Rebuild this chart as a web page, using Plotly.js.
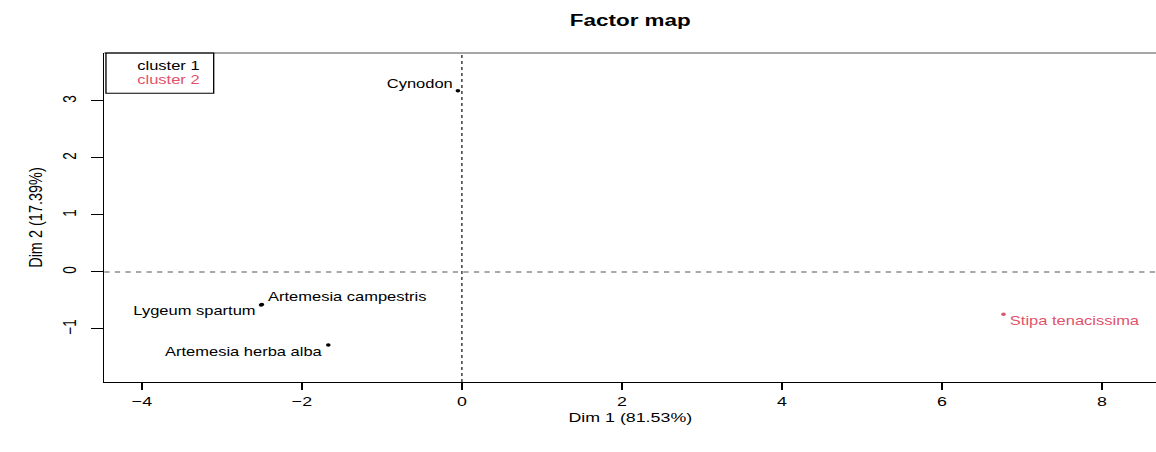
<!DOCTYPE html>
<html>
<head>
<meta charset="utf-8">
<script src="https://cdn.plot.ly/plotly-3.0.1.min.js"></script>
<style>
  html, body { margin: 0; padding: 0; background: #fff; overflow: hidden; }
  #wrap { width: 1156px; height: 452px; overflow: hidden; }
  #chart { width: 876px; height: 452px; transform: scaleX(1.32); transform-origin: 0 0; }
</style>
</head>
<body>
<div id="wrap"><div id="chart"></div></div>
<script>
// ---- data ----
const species = ["Cynodon", "Lygeum spartum", "Artemesia campestris", "Artemesia herba alba", "Stipa tenacissima"];
const dim1 = [-0.05, -2.51, -2.50, -1.67, 6.77];
const dim2 = [3.18, -0.58, -0.57, -1.28, -0.74];
const cluster = [1, 1, 1, 1, 2];
const clusterNames = ["cluster 1", "cluster 2"];
const xTicks = [-4, -2, 0, 2, 4, 6, 8];
const yTicks = [-1, 0, 1, 2, 3];

// ---- style ----
const clusterColors = {1: "#000000", 2: "#DF536B"};
const labelPlace = {
  "Cynodon":              {xanchor: "right", xshift: -2, yshift: 7},
  "Lygeum spartum":       {xanchor: "right", xshift: -2, yshift: -6},
  "Artemesia campestris": {xanchor: "left",  xshift: 3,  yshift: 7},
  "Artemesia herba alba": {xanchor: "right", xshift: -3, yshift: -7},
  "Stipa tenacissima":    {xanchor: "left",  xshift: 3,  yshift: -7}
};
const FONT = "Liberation Sans, Arial, sans-serif";

const traces = [1, 2].map(c => {
  const idx = cluster.map((k, i) => k === c ? i : -1).filter(i => i >= 0);
  return {
    type: "scatter", mode: "markers",
    x: idx.map(i => dim1[i]), y: idx.map(i => dim2[i]),
    marker: {color: clusterColors[c], size: 3.5},
    name: clusterNames[c - 1], showlegend: false, hoverinfo: "x+y"
  };
});

const annotations = species.map((s, i) => Object.assign({
  x: dim1[i], y: dim2[i], xref: "x", yref: "y",
  text: s, showarrow: false, yanchor: "middle",
  font: {family: FONT, size: 12.5, color: clusterColors[cluster[i]]}
}, labelPlace[s]));

// legend texts
const legendY = [0.960, 0.917];
clusterNames.forEach((n, k) => {
  annotations.push({
    x: 0.029, y: legendY[k], xref: "paper", yref: "paper",
    xanchor: "left", yanchor: "middle", showarrow: false, text: n,
    font: {family: FONT, size: 12.5, color: clusterColors[k + 1]}
  });
});

const shapes = [
  {type: "line", xref: "x", yref: "paper", x0: 0, x1: 0, y0: 0, y1: 1,
   line: {color: "#222", width: 1, dash: "3px,3px"}},
  {type: "line", xref: "paper", yref: "y", x0: 0, x1: 1, y0: 0, y1: 0,
   line: {color: "#555", width: 1, dash: "4px,4px"}},
  {type: "line", xref: "paper", yref: "paper", x0: 0, x1: 1, y0: 1, y1: 1,
   line: {color: "#888", width: 1.5}},
  {type: "rect", xref: "paper", yref: "paper", x0: 0.0016, x1: 0.104, y0: 0.878, y1: 1,
   line: {color: "#000", width: 1}, fillcolor: "rgba(0,0,0,0)"}
];

const layout = {
  width: 876, height: 452,
  margin: {l: 79, r: 0, t: 53, b: 70},
  paper_bgcolor: "#fff", plot_bgcolor: "#fff",
  font: {family: FONT, color: "#000"},
  title: {text: "<b>Factor map</b>", font: {family: FONT, size: 17, color: "#000"},
          x: 0.5, xref: "paper", y: 1 - 20 / 452, yref: "container", yanchor: "middle"},
  xaxis: {
    range: [-4.47, 8.68], tickvals: xTicks, ticktext: xTicks.map(v => v < 0 ? "\u2212" + Math.abs(v) : String(v)),
    showgrid: false, zeroline: false, showline: true, linecolor: "#000", linewidth: 1,
    ticks: "outside", ticklen: 7, tickcolor: "#000", tickfont: {family: FONT, size: 13.5},
    title: {text: "Dim 1 (81.53%)", font: {family: FONT, size: 13.5}, standoff: 4}
  },
  yaxis: {
    range: [-1.93, 3.84], tickvals: yTicks, ticktext: yTicks.map(v => v < 0 ? "\u2212" + Math.abs(v) : String(v)),
    tickangle: -90, ticklabelstandoff: 6,
    showgrid: false, zeroline: false, showline: true, linecolor: "#000", linewidth: 1,
    ticks: "outside", ticklen: 9, tickcolor: "#000", tickfont: {family: FONT, size: 13.5},
    title: {text: "Dim 2 (17.39%)", font: {family: FONT, size: 14.5}, standoff: 9}
  },
  shapes: shapes,
  annotations: annotations,
  showlegend: false
};

Plotly.newPlot("chart", traces, layout, {displayModeBar: false, staticPlot: true});
</script>
</body>
</html>
